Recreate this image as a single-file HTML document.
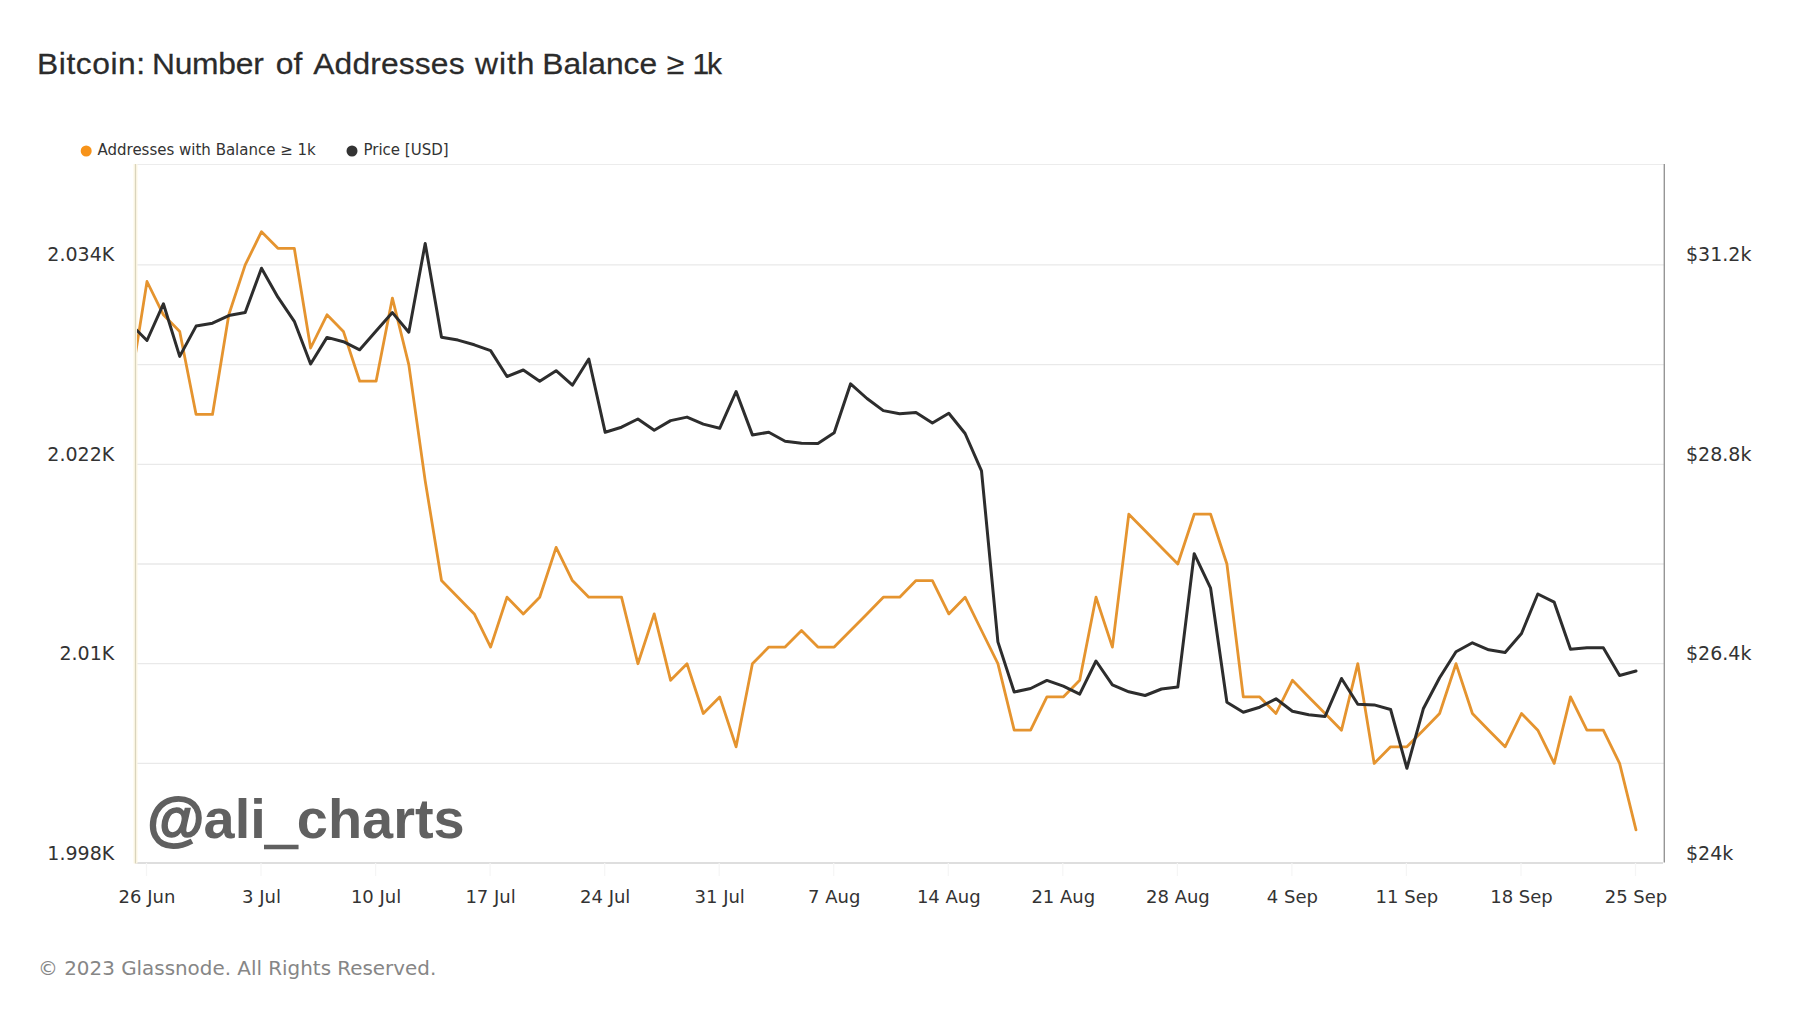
<!DOCTYPE html>
<html><head><meta charset="utf-8"><title>Bitcoin: Number of Addresses with Balance ≥ 1k</title>
<style>
html,body{margin:0;padding:0;background:#fff;}
body{width:1800px;height:1013px;overflow:hidden;position:relative;font-family:"DejaVu Sans","Liberation Sans",sans-serif;}
svg{position:absolute;left:0;top:0;}
text{font-family:"DejaVu Sans","Liberation Sans",sans-serif;}
</style></head><body>
<svg width="1800" height="1013" viewBox="0 0 1800 1013">
<defs><clipPath id="cp"><rect x="137" y="165" width="1527" height="698"/></clipPath>
<filter id="bl" x="-5%" y="-20%" width="110%" height="140%"><feGaussianBlur stdDeviation="0.7"/></filter></defs>
<rect width="1800" height="1013" fill="#fff"/>
<g font-size="30" fill="#2b2b2b" stroke="#2b2b2b" stroke-width="0.25" style="font-family:'Liberation Sans',Arial,sans-serif"><text transform="translate(37.08,74.3) scale(1.06,1)" letter-spacing="0.51" style="font-family:'Liberation Sans',Arial,sans-serif">Bitcoin:</text><text transform="translate(151.88,74.3) scale(1.06,1)" letter-spacing="-0.2" style="font-family:'Liberation Sans',Arial,sans-serif">Number</text><text transform="translate(275.64,74.3) scale(1.06,1)" letter-spacing="0.2" style="font-family:'Liberation Sans',Arial,sans-serif">of</text><text transform="translate(313.20,74.3) scale(1.06,1)" letter-spacing="0.14" style="font-family:'Liberation Sans',Arial,sans-serif">Addresses</text><text transform="translate(475.00,74.3) scale(1.06,1)" letter-spacing="0.94" style="font-family:'Liberation Sans',Arial,sans-serif">with</text><text transform="translate(542.28,74.3) scale(1.06,1)" letter-spacing="0" style="font-family:'Liberation Sans',Arial,sans-serif">Balance</text><text transform="translate(666.70,74.3) scale(1.06,1)" letter-spacing="0" style="font-family:'Liberation Sans',Arial,sans-serif">≥</text><text transform="translate(692.5,74.3)" letter-spacing="-2.3" style="font-family:'Liberation Sans',Arial,sans-serif">1k</text></g>
<circle cx="86.2" cy="151" r="5.5" fill="#f7931a"/>
<text x="97.5" y="154.9" font-size="15" fill="#333">Addresses with Balance ≥ 1k</text>
<circle cx="352" cy="151" r="5.5" fill="#333"/>
<text x="363.5" y="154.9" font-size="15" fill="#333">Price [USD]</text>
<g stroke="#e9e9e9" stroke-width="1.3"><line x1="136" x2="1664" y1="763.4" y2="763.4"/><line x1="136" x2="1664" y1="663.7" y2="663.7"/><line x1="136" x2="1664" y1="564.0" y2="564.0"/><line x1="136" x2="1664" y1="464.3" y2="464.3"/><line x1="136" x2="1664" y1="364.6" y2="364.6"/><line x1="136" x2="1664" y1="264.9" y2="264.9"/></g>
<line x1="136" x2="1664" y1="164.5" y2="164.5" stroke="#ececec" stroke-width="1.2"/>
<line x1="136" x2="1663" y1="863" y2="863" stroke="#dedede" stroke-width="1.8"/>
<line x1="135.5" x2="135.5" y1="164" y2="863.4" stroke="#fdf8e6" stroke-width="4"/><line x1="135.5" x2="135.5" y1="164" y2="863.4" stroke="#d9d4bd" stroke-width="1.2"/>
<line x1="1664.3" x2="1664.3" y1="164" y2="862.6" stroke="#969696" stroke-width="1.4"/>
<g stroke="#f5f5f5" stroke-width="1.2"><line x1="146.5" x2="146.5" y1="863" y2="876"/><line x1="261.0" x2="261.0" y1="863" y2="876"/><line x1="375.6" x2="375.6" y1="863" y2="876"/><line x1="490.1" x2="490.1" y1="863" y2="876"/><line x1="604.7" x2="604.7" y1="863" y2="876"/><line x1="719.2" x2="719.2" y1="863" y2="876"/><line x1="833.7" x2="833.7" y1="863" y2="876"/><line x1="948.3" x2="948.3" y1="863" y2="876"/><line x1="1062.8" x2="1062.8" y1="863" y2="876"/><line x1="1177.4" x2="1177.4" y1="863" y2="876"/><line x1="1291.9" x2="1291.9" y1="863" y2="876"/><line x1="1406.4" x2="1406.4" y1="863" y2="876"/><line x1="1521.0" x2="1521.0" y1="863" y2="876"/><line x1="1635.5" x2="1635.5" y1="863" y2="876"/></g>
<text x="149" y="837.7" font-family="Liberation Sans, Arial, sans-serif" font-weight="bold" font-size="55.9" fill="#606060" style="font-family:'Liberation Sans',Arial,sans-serif" filter="url(#bl)"><tspan x="147.3" font-size="58.6" stroke="#606060" stroke-width="1.6" dy="1.5">@</tspan><tspan dy="-1.5" x="203.6">ali</tspan><tspan dy="2.8" stroke="#606060" stroke-width="2.4">_</tspan><tspan dy="-2.8">charts</tspan></text>
<g clip-path="url(#cp)" fill="none" stroke-linejoin="round" stroke-linecap="round">
<polyline points="130.6,384.5 147.0,281.5 163.4,314.8 179.7,331.4 196.1,414.4 212.5,414.4 228.8,314.8 245.2,264.9 261.5,231.7 277.9,248.3 294.3,248.3 310.6,348.0 327.0,314.8 343.4,331.4 359.7,381.2 376.1,381.2 392.4,298.1 408.8,364.6 425.2,480.9 441.5,580.6 457.9,597.2 474.3,613.9 490.6,647.1 507.0,597.2 523.3,613.9 539.7,597.2 556.1,547.4 572.4,580.6 588.8,597.2 605.2,597.2 621.5,597.2 637.9,663.7 654.2,613.9 670.6,680.3 687.0,663.7 703.3,713.5 719.7,696.9 736.1,746.8 752.4,663.7 768.8,647.1 785.1,647.1 801.5,630.5 817.9,647.1 834.2,647.1 850.6,630.5 867.0,613.9 883.3,597.2 899.7,597.2 916.0,580.6 932.4,580.6 948.8,613.9 965.1,597.2 981.5,630.5 997.9,663.7 1014.2,730.2 1030.6,730.2 1046.9,696.9 1063.3,696.9 1079.7,680.3 1096.0,597.2 1112.4,647.1 1128.8,514.2 1145.1,530.8 1161.5,547.4 1177.8,564.0 1194.2,514.2 1210.6,514.2 1226.9,564.0 1243.3,696.9 1259.7,696.9 1276.0,713.5 1292.4,680.3 1308.7,696.9 1325.1,713.5 1341.5,730.2 1357.8,663.7 1374.2,763.4 1390.6,746.8 1406.9,746.8 1423.3,730.2 1439.6,713.5 1456.0,663.7 1472.4,713.5 1488.7,730.2 1505.1,746.8 1521.5,713.5 1537.8,730.2 1554.2,763.4 1570.5,696.9 1586.9,730.2 1603.3,730.2 1619.6,763.4 1636.0,829.9" stroke="#e5942f" stroke-width="2.8"/>
<polyline points="130.6,324.1 147.0,340.5 163.4,303.8 179.7,356.4 196.1,326.1 212.5,323.2 228.8,315.6 245.2,312.6 261.5,268.2 277.9,297.2 294.3,321.3 310.6,364.0 327.0,337.4 343.4,341.7 359.7,349.8 376.1,331.0 392.4,312.6 408.8,332.2 425.2,243.5 441.5,337.3 457.9,340.1 474.3,344.8 490.6,350.6 507.0,376.5 523.3,370.0 539.7,381.2 556.1,370.7 572.4,385.2 588.8,359.0 605.2,432.3 621.5,427.2 637.9,419.0 654.2,430.2 670.6,420.6 687.0,417.1 703.3,424.1 719.7,428.3 736.1,391.5 752.4,434.9 768.8,432.3 785.1,441.2 801.5,443.2 817.9,443.5 834.2,432.8 850.6,383.8 867.0,398.5 883.3,410.6 899.7,413.7 916.0,412.5 932.4,423.0 948.8,413.2 965.1,433.5 981.5,470.8 997.9,641.9 1014.2,692.0 1030.6,688.5 1046.9,680.4 1063.3,686.2 1079.7,694.1 1096.0,661.0 1112.4,684.8 1128.8,691.8 1145.1,695.5 1161.5,689.0 1177.8,687.1 1194.2,553.7 1210.6,588.2 1226.9,702.3 1243.3,712.3 1259.7,707.2 1276.0,698.8 1292.4,711.2 1308.7,714.7 1325.1,716.4 1341.5,678.5 1357.8,704.2 1374.2,704.9 1390.6,709.5 1406.9,768.3 1423.3,708.8 1439.6,677.8 1456.0,651.7 1472.4,642.8 1488.7,649.8 1505.1,652.4 1521.5,633.5 1537.8,594.0 1554.2,602.2 1570.5,649.3 1586.9,647.7 1603.3,647.7 1619.6,675.5 1636.0,671.0" stroke="#2d2d2d" stroke-width="3"/>
</g>
<g font-size="19" fill="#333"><text x="114.2" y="859.8" text-anchor="end">1.998K</text><text x="114.2" y="659.8" text-anchor="end">2.01K</text><text x="114.2" y="460.8" text-anchor="end">2.022K</text><text x="114.2" y="260.8" text-anchor="end">2.034K</text><text x="1686" y="859.8">$24k</text><text x="1686" y="659.8">$26.4k</text><text x="1686" y="460.8">$28.8k</text><text x="1686" y="260.8">$31.2k</text></g><g font-size="18" fill="#333"><text x="147.0" y="903" text-anchor="middle">26 Jun</text><text x="261.5" y="903" text-anchor="middle">3 Jul</text><text x="376.1" y="903" text-anchor="middle">10 Jul</text><text x="490.6" y="903" text-anchor="middle">17 Jul</text><text x="605.2" y="903" text-anchor="middle">24 Jul</text><text x="719.7" y="903" text-anchor="middle">31 Jul</text><text x="834.2" y="903" text-anchor="middle">7 Aug</text><text x="948.8" y="903" text-anchor="middle">14 Aug</text><text x="1063.3" y="903" text-anchor="middle">21 Aug</text><text x="1177.9" y="903" text-anchor="middle">28 Aug</text><text x="1292.4" y="903" text-anchor="middle">4 Sep</text><text x="1406.9" y="903" text-anchor="middle">11 Sep</text><text x="1521.5" y="903" text-anchor="middle">18 Sep</text><text x="1636.0" y="903" text-anchor="middle">25 Sep</text></g>
<text x="38" y="975" font-size="19.9" fill="#868686">© 2023 Glassnode. All Rights Reserved.</text>
</svg>
</body></html>
